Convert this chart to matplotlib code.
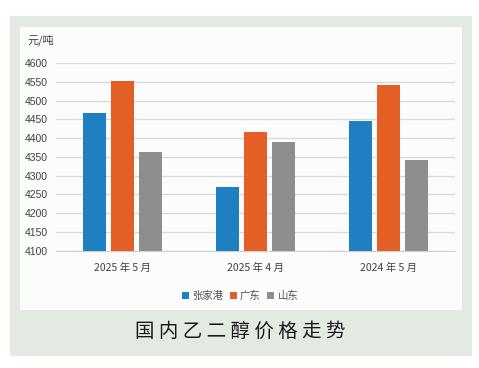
import numpy as np
import matplotlib
matplotlib.use('Agg')
import matplotlib.pyplot as plt
from matplotlib.patches import Rectangle

plt.rcParams['font.family'] = ['Noto Sans CJK SC', 'DejaVu Sans']

# data
periods = ['2025 年 5 月', '2025 年 4 月', '2024 年 5 月']
zhangjiagang = [4466, 4270, 4445]
guangdong = [4551, 4417, 4542]
shandong = [4362, 4389, 4342]
series_names = ['张家港', '广东', '山东']
colors = ['#1f80c1', '#e35f26', '#8e8e91']
y_ticks = list(range(4100, 4601, 50))

fig = plt.figure(figsize=(4.79, 3.68), dpi=100)
fig.patch.set_facecolor('white')

# green frame and white inner panel
fig.patches.append(Rectangle((10 / 479, 1 - 356 / 368), 462 / 479, 340 / 368,
                             transform=fig.transFigure, facecolor='#e3eae2',
                             edgecolor='none', zorder=-2))
fig.patches.append(Rectangle((20 / 479, 1 - 310 / 368), 442 / 479, 283 / 368,
                             transform=fig.transFigure, facecolor='#fcfcfc',
                             edgecolor='none', zorder=-1))

ax = fig.add_axes([56 / 479, 1 - 250.7 / 368, 399 / 479, 187.7 / 368])
ax.set_facecolor('none')

x = np.arange(len(periods))
w = 0.168
off = 0.21
for i, vals in enumerate([zhangjiagang, guangdong, shandong]):
    ax.bar(x + (i - 1) * off, np.array(vals) - 4100, width=w, bottom=4100,
           color=colors[i], label=series_names[i], zorder=3)

ax.set_xlim(-0.5, 2.5)
ax.set_ylim(4100, 4600)
ax.set_yticks(y_ticks)
ax.yaxis.grid(True, color='#d9d9d9', linewidth=1, zorder=0)
for s in ['top', 'right', 'left']:
    ax.spines[s].set_visible(False)
ax.spines['bottom'].set_color('#d0d0d0')
ax.tick_params(axis='both', length=0, colors='#404040')
ax.tick_params(axis='y', labelsize=7.5, pad=6)
ax.tick_params(axis='x', labelsize=7.5, pad=9)
for lab in ax.get_yticklabels():
    lab.set_fontfamily(['Liberation Sans', 'DejaVu Sans'])
ax.set_xticks(x)
ax.set_xticklabels(periods)

fig.text(27 / 479, 1 - 40 / 368, '元/吨', fontsize=8, color='#404040',
         va='center', ha='left')

leg = ax.legend(loc='center', bbox_to_anchor=(240 / 479, 1 - 296 / 368),
                bbox_transform=fig.transFigure, ncol=3, frameon=False,
                fontsize=7.5, handlelength=0.7, handleheight=0.7,
                handletextpad=0.3, columnspacing=0.6)
for t in leg.get_texts():
    t.set_color('#505050')

fig.text(240 / 479, 1 - 331 / 368, ' '.join('国内乙二醇价格走势'), fontsize=14,
         color='#1a1a1a', ha='center', va='center', fontweight='medium')

fig.savefig('out.png', dpi=100)
